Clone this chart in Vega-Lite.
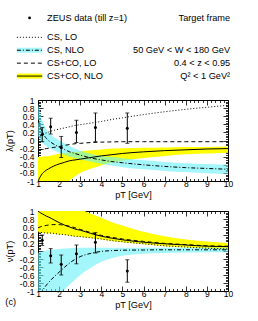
{
  "$schema": "https://vega.github.io/schema/vega-lite/v6.json",
  "padding": {"left": 5, "top": 5, "right": 5, "bottom": 2},
  "config": {
    "view": {"stroke": null},
    "concat": {"spacing": 7},
    "font": "Liberation Sans",
    "text": {"font": "Liberation Sans", "fontSize": 9.2, "color": "black"},
    "title": {"font": "Liberation Sans", "fontSize": 9.2, "fontWeight": "normal", "color": "black"},
    "axis": {"grid": false, "domainColor": "black", "tickColor": "black", "labelColor": "black", "titleColor": "black", "labelFont": "Liberation Sans", "titleFont": "Liberation Sans", "labelFontSize": 8.5, "titleFontSize": 9.2, "titleFontWeight": "normal", "labelFlush": false, "labelOverlap": false, "domainWidth": 1, "tickWidth": 0.8}
  },
  "datasets": {
    "legend": [
      {"line": 0, "label": "ZEUS data (till z=1)", "note": "Target frame"},
      {"line": 1.5, "label": "CS, LO", "note": ""},
      {"line": 2.5, "label": "CS, NLO", "note": "50 GeV < W < 180 GeV"},
      {"line": 3.5, "label": "CS+CO, LO", "note": "0.4 < z < 0.95"},
      {"line": 4.5, "label": "CS+CO, NLO", "note": "Q² < 1 GeV²"}
    ],
    "lam": [
      {"pT": 1.0, "cs_lo": null, "cs_nlo": 0.52, "cs_nlo_lo": 0.12, "cs_nlo_hi": 0.92, "co_lo": -0.24, "co_nlo": -1.05, "co_nlo_lo": -1.2, "co_nlo_hi": -0.41},
      {"pT": 1.05, "cs_lo": null, "cs_nlo": 0.43, "cs_nlo_lo": 0.06, "cs_nlo_hi": 0.8, "co_lo": -0.235, "co_nlo": -0.95, "co_nlo_lo": -1.2, "co_nlo_hi": -0.41},
      {"pT": 1.1, "cs_lo": 0.12, "cs_nlo": 0.35, "cs_nlo_lo": 0.0, "cs_nlo_hi": 0.7, "co_lo": -0.23, "co_nlo": -0.9, "co_nlo_lo": -1.2, "co_nlo_hi": -0.4},
      {"pT": 1.2, "cs_lo": 0.15, "cs_nlo": 0.22, "cs_nlo_lo": -0.06, "cs_nlo_hi": 0.5, "co_lo": -0.22, "co_nlo": -0.82, "co_nlo_lo": -1.2, "co_nlo_hi": -0.4},
      {"pT": 1.3, "cs_lo": 0.17, "cs_nlo": 0.12, "cs_nlo_lo": -0.1, "cs_nlo_hi": 0.37, "co_lo": -0.21, "co_nlo": -0.77, "co_nlo_lo": -1.2, "co_nlo_hi": -0.39},
      {"pT": 1.4, "cs_lo": 0.19, "cs_nlo": 0.05, "cs_nlo_lo": -0.14, "cs_nlo_hi": 0.28, "co_lo": -0.2, "co_nlo": -0.73, "co_nlo_lo": -1.2, "co_nlo_hi": -0.39},
      {"pT": 1.5, "cs_lo": 0.21, "cs_nlo": 0.0, "cs_nlo_lo": -0.17, "cs_nlo_hi": 0.2, "co_lo": -0.19, "co_nlo": -0.7, "co_nlo_lo": -1.2, "co_nlo_hi": -0.38},
      {"pT": 1.75, "cs_lo": 0.25, "cs_nlo": -0.09, "cs_nlo_lo": -0.24, "cs_nlo_hi": 0.08, "co_lo": -0.17, "co_nlo": -0.63, "co_nlo_lo": -1.15, "co_nlo_hi": -0.36},
      {"pT": 2.0, "cs_lo": 0.28, "cs_nlo": -0.16, "cs_nlo_lo": -0.3, "cs_nlo_hi": 0.0, "co_lo": -0.15, "co_nlo": -0.58, "co_nlo_lo": -1.1, "co_nlo_hi": -0.33},
      {"pT": 2.25, "cs_lo": 0.31, "cs_nlo": -0.22, "cs_nlo_lo": -0.35, "cs_nlo_hi": -0.07, "co_lo": -0.12, "co_nlo": -0.54, "co_nlo_lo": -1.05, "co_nlo_hi": -0.31},
      {"pT": 2.5, "cs_lo": 0.34, "cs_nlo": -0.28, "cs_nlo_lo": -0.4, "cs_nlo_hi": -0.14, "co_lo": -0.1, "co_nlo": -0.5, "co_nlo_lo": -0.98, "co_nlo_hi": -0.29},
      {"pT": 2.75, "cs_lo": 0.37, "cs_nlo": -0.32, "cs_nlo_lo": -0.43, "cs_nlo_hi": -0.2, "co_lo": -0.08, "co_nlo": -0.48, "co_nlo_lo": -0.88, "co_nlo_hi": -0.28},
      {"pT": 3.0, "cs_lo": 0.39, "cs_nlo": -0.36, "cs_nlo_lo": -0.46, "cs_nlo_hi": -0.25, "co_lo": -0.07, "co_nlo": -0.46, "co_nlo_lo": -0.8, "co_nlo_hi": -0.27},
      {"pT": 3.5, "cs_lo": 0.43, "cs_nlo": -0.43, "cs_nlo_lo": -0.52, "cs_nlo_hi": -0.33, "co_lo": -0.05, "co_nlo": -0.42, "co_nlo_lo": -0.7, "co_nlo_hi": -0.24},
      {"pT": 4.0, "cs_lo": 0.47, "cs_nlo": -0.48, "cs_nlo_lo": -0.58, "cs_nlo_hi": -0.38, "co_lo": -0.04, "co_nlo": -0.38, "co_nlo_lo": -0.61, "co_nlo_hi": -0.22},
      {"pT": 4.5, "cs_lo": 0.52, "cs_nlo": -0.52, "cs_nlo_lo": -0.62, "cs_nlo_hi": -0.41, "co_lo": -0.035, "co_nlo": -0.35, "co_nlo_lo": -0.55, "co_nlo_hi": -0.2},
      {"pT": 5.0, "cs_lo": 0.56, "cs_nlo": -0.55, "cs_nlo_lo": -0.66, "cs_nlo_hi": -0.44, "co_lo": -0.03, "co_nlo": -0.32, "co_nlo_lo": -0.5, "co_nlo_hi": -0.19},
      {"pT": 6.0, "cs_lo": 0.64, "cs_nlo": -0.6, "cs_nlo_lo": -0.71, "cs_nlo_hi": -0.49, "co_lo": -0.03, "co_nlo": -0.28, "co_nlo_lo": -0.43, "co_nlo_hi": -0.18},
      {"pT": 7.0, "cs_lo": 0.71, "cs_nlo": -0.64, "cs_nlo_lo": -0.75, "cs_nlo_hi": -0.53, "co_lo": -0.03, "co_nlo": -0.25, "co_nlo_lo": -0.38, "co_nlo_hi": -0.17},
      {"pT": 8.0, "cs_lo": 0.77, "cs_nlo": -0.67, "cs_nlo_lo": -0.78, "cs_nlo_hi": -0.56, "co_lo": -0.03, "co_nlo": -0.23, "co_nlo_lo": -0.34, "co_nlo_hi": -0.16},
      {"pT": 9.0, "cs_lo": 0.82, "cs_nlo": -0.69, "cs_nlo_lo": -0.81, "cs_nlo_hi": -0.58, "co_lo": -0.03, "co_nlo": -0.21, "co_nlo_lo": -0.32, "co_nlo_hi": -0.16},
      {"pT": 10.0, "cs_lo": 0.87, "cs_nlo": -0.71, "cs_nlo_lo": -0.83, "cs_nlo_hi": -0.6, "co_lo": -0.03, "co_nlo": -0.2, "co_nlo_lo": -0.3, "co_nlo_hi": -0.15}
    ],
    "nu": [
      {"pT": 1.0, "cs_lo": 0.47, "cs_nlo": -1.3, "cs_nlo_lo": -1.3, "cs_nlo_hi": -0.05, "co_lo": 0.58, "co_nlo": 1.0, "co_nlo_lo": 0.46, "co_nlo_hi": 1.3},
      {"pT": 1.05, "cs_lo": 0.47, "cs_nlo": -1.2, "cs_nlo_lo": -1.3, "cs_nlo_hi": -0.04, "co_lo": 0.59, "co_nlo": 0.98, "co_nlo_lo": 0.46, "co_nlo_hi": 1.3},
      {"pT": 1.1, "cs_lo": 0.465, "cs_nlo": -1.12, "cs_nlo_lo": -1.3, "cs_nlo_hi": -0.03, "co_lo": 0.6, "co_nlo": 0.96, "co_nlo_lo": 0.455, "co_nlo_hi": 1.3},
      {"pT": 1.2, "cs_lo": 0.46, "cs_nlo": -1.0, "cs_nlo_lo": -1.3, "cs_nlo_hi": -0.01, "co_lo": 0.62, "co_nlo": 0.93, "co_nlo_lo": 0.45, "co_nlo_hi": 1.3},
      {"pT": 1.3, "cs_lo": 0.455, "cs_nlo": -0.92, "cs_nlo_lo": -1.3, "cs_nlo_hi": 0.0, "co_lo": 0.63, "co_nlo": 0.9, "co_nlo_lo": 0.445, "co_nlo_hi": 1.3},
      {"pT": 1.4, "cs_lo": 0.45, "cs_nlo": -0.85, "cs_nlo_lo": -1.3, "cs_nlo_hi": 0.01, "co_lo": 0.64, "co_nlo": 0.87, "co_nlo_lo": 0.44, "co_nlo_hi": 1.3},
      {"pT": 1.5, "cs_lo": 0.45, "cs_nlo": -0.79, "cs_nlo_lo": -1.3, "cs_nlo_hi": 0.02, "co_lo": 0.65, "co_nlo": 0.85, "co_nlo_lo": 0.44, "co_nlo_hi": 1.3},
      {"pT": 1.75, "cs_lo": 0.44, "cs_nlo": -0.65, "cs_nlo_lo": -1.3, "cs_nlo_hi": 0.04, "co_lo": 0.66, "co_nlo": 0.78, "co_nlo_lo": 0.43, "co_nlo_hi": 1.3},
      {"pT": 2.0, "cs_lo": 0.42, "cs_nlo": -0.53, "cs_nlo_lo": -1.1, "cs_nlo_hi": 0.05, "co_lo": 0.66, "co_nlo": 0.71, "co_nlo_lo": 0.41, "co_nlo_hi": 1.3},
      {"pT": 2.25, "cs_lo": 0.41, "cs_nlo": -0.41, "cs_nlo_lo": -0.97, "cs_nlo_hi": 0.06, "co_lo": 0.64, "co_nlo": 0.65, "co_nlo_lo": 0.4, "co_nlo_hi": 1.25},
      {"pT": 2.5, "cs_lo": 0.39, "cs_nlo": -0.3, "cs_nlo_lo": -0.84, "cs_nlo_hi": 0.07, "co_lo": 0.62, "co_nlo": 0.6, "co_nlo_lo": 0.38, "co_nlo_hi": 1.2},
      {"pT": 2.75, "cs_lo": 0.37, "cs_nlo": -0.21, "cs_nlo_lo": -0.72, "cs_nlo_hi": 0.08, "co_lo": 0.58, "co_nlo": 0.55, "co_nlo_lo": 0.36, "co_nlo_hi": 1.14},
      {"pT": 3.0, "cs_lo": 0.36, "cs_nlo": -0.14, "cs_nlo_lo": -0.6, "cs_nlo_hi": 0.08, "co_lo": 0.54, "co_nlo": 0.52, "co_nlo_lo": 0.35, "co_nlo_hi": 1.06},
      {"pT": 3.5, "cs_lo": 0.33, "cs_nlo": -0.06, "cs_nlo_lo": -0.42, "cs_nlo_hi": 0.08, "co_lo": 0.46, "co_nlo": 0.44, "co_nlo_lo": 0.32, "co_nlo_hi": 0.93},
      {"pT": 4.0, "cs_lo": 0.3, "cs_nlo": -0.01, "cs_nlo_lo": -0.27, "cs_nlo_hi": 0.08, "co_lo": 0.39, "co_nlo": 0.37, "co_nlo_lo": 0.29, "co_nlo_hi": 0.83},
      {"pT": 4.5, "cs_lo": 0.26, "cs_nlo": 0.01, "cs_nlo_lo": -0.18, "cs_nlo_hi": 0.08, "co_lo": 0.34, "co_nlo": 0.32, "co_nlo_lo": 0.25, "co_nlo_hi": 0.72},
      {"pT": 5.0, "cs_lo": 0.23, "cs_nlo": 0.02, "cs_nlo_lo": -0.12, "cs_nlo_hi": 0.08, "co_lo": 0.3, "co_nlo": 0.28, "co_nlo_lo": 0.22, "co_nlo_hi": 0.64},
      {"pT": 6.0, "cs_lo": 0.18, "cs_nlo": 0.025, "cs_nlo_lo": -0.07, "cs_nlo_hi": 0.08, "co_lo": 0.24, "co_nlo": 0.22, "co_nlo_lo": 0.17, "co_nlo_hi": 0.48},
      {"pT": 7.0, "cs_lo": 0.13, "cs_nlo": 0.03, "cs_nlo_lo": -0.05, "cs_nlo_hi": 0.08, "co_lo": 0.19, "co_nlo": 0.18, "co_nlo_lo": 0.12, "co_nlo_hi": 0.37},
      {"pT": 8.0, "cs_lo": 0.1, "cs_nlo": 0.03, "cs_nlo_lo": -0.04, "cs_nlo_hi": 0.08, "co_lo": 0.16, "co_nlo": 0.15, "co_nlo_lo": 0.09, "co_nlo_hi": 0.29},
      {"pT": 9.0, "cs_lo": 0.07, "cs_nlo": 0.03, "cs_nlo_lo": -0.03, "cs_nlo_hi": 0.08, "co_lo": 0.13, "co_nlo": 0.12, "co_nlo_lo": 0.06, "co_nlo_hi": 0.24},
      {"pT": 10.0, "cs_lo": 0.05, "cs_nlo": 0.03, "cs_nlo_lo": -0.03, "cs_nlo_hi": 0.08, "co_lo": 0.12, "co_nlo": 0.11, "co_nlo_lo": 0.04, "co_nlo_hi": 0.2}
    ],
    "lam_pts": [
      {"pT": 1.2, "v": 0.15, "lo": -0.03, "hi": 0.32},
      {"pT": 1.6, "v": 0.34, "lo": 0.16, "hi": 0.55},
      {"pT": 2.1, "v": -0.17, "lo": -0.42, "hi": 0.1},
      {"pT": 2.82, "v": 0.2, "lo": -0.05, "hi": 0.5},
      {"pT": 3.72, "v": 0.32, "lo": -0.03, "hi": 0.68},
      {"pT": 5.23, "v": 0.3, "lo": -0.07, "hi": 0.68}
    ],
    "nu_pts": [
      {"pT": 1.2, "v": 0.27, "lo": 0.14, "hi": 0.4},
      {"pT": 1.6, "v": -0.12, "lo": -0.3, "hi": 0.06},
      {"pT": 2.1, "v": -0.33, "lo": -0.6, "hi": -0.1},
      {"pT": 2.82, "v": -0.07, "lo": -0.32, "hi": 0.15},
      {"pT": 3.72, "v": 0.22, "lo": -0.05, "hi": 0.46},
      {"pT": 5.23, "v": -0.5, "lo": -0.78, "hi": -0.22}
    ]
  },
  "vconcat": [
    {
      "width": 190, "height": 84,
      "data": {"name": "legend"},
      "encoding": {
        "y": {"field": "line", "type": "quantitative", "scale": {"domain": [-1, 5.5], "reverse": true, "nice": false, "zero": false}, "axis": null}
      },
      "layer": [
        {
          "transform": [{"filter": "datum.label == 'CS, NLO'"}],
          "mark": {"type": "rule", "strokeWidth": 5, "color": "#66f0f5", "opacity": 0.6},
          "encoding": {"x": {"datum": 0, "type": "quantitative", "scale": {"domain": [1, 10], "nice": false, "zero": false}, "axis": null}, "x2": {"datum": 1.2}}
        },
        {
          "transform": [{"filter": "datum.label == 'CS+CO, NLO'"}],
          "mark": {"type": "rule", "strokeWidth": 5, "color": "#ffff00"},
          "encoding": {"x": {"datum": 0, "type": "quantitative"}, "x2": {"datum": 1.2}}
        },
        {
          "transform": [{"filter": "datum.line > 0"}],
          "mark": {"type": "rule", "strokeWidth": 1, "color": "black"},
          "encoding": {
            "x": {"datum": 0, "type": "quantitative"}, "x2": {"datum": 1.2},
            "strokeDash": {"field": "label", "type": "nominal", "scale": {"domain": ["CS, LO", "CS, NLO", "CS+CO, LO", "CS+CO, NLO"], "range": [[1, 2], [4, 2, 1, 2], [4, 3], [1, 0]]}, "legend": null}
          }
        },
        {
          "transform": [{"filter": "datum.line == 0"}],
          "mark": {"type": "point", "filled": true, "shape": "circle", "size": 8, "color": "black", "opacity": 1},
          "encoding": {"x": {"datum": 0.6, "type": "quantitative"}}
        },
        {
          "mark": {"type": "text", "align": "left", "baseline": "middle"},
          "encoding": {"x": {"datum": 1.43, "type": "quantitative"}, "text": {"field": "label"}}
        },
        {
          "mark": {"type": "text", "align": "right", "baseline": "middle"},
          "encoding": {"x": {"datum": 10.1, "type": "quantitative"}, "text": {"field": "note"}}
        }
      ]
    },
    {
      "width": 190, "height": 81,
      "resolve": {"axis": {"x": "independent", "y": "independent"}},
      "layer": [
        {
          "data": {"name": "lam"},
          "mark": {"type": "area", "color": "#ffff00", "interpolate": "monotone", "clip": true, "opacity": 1},
          "encoding": {
            "x": {"field": "pT", "type": "quantitative", "scale": {"domain": [1, 10], "nice": false, "zero": false},
                  "axis": {"orient": "bottom", "values": [1, 2, 3, 4, 5, 6, 7, 8, 9, 10], "tickSize": -5, "labelPadding": 3, "title": "pT [GeV]", "titlePadding": 3}},
            "y": {"field": "co_nlo_lo", "type": "quantitative", "scale": {"domain": [-1, 1], "nice": false, "zero": false},
                  "axis": {"orient": "left", "values": [-1, -0.8, -0.6, -0.4, -0.2, 0, 0.2, 0.4, 0.6, 0.8, 1], "tickSize": -5, "labelPadding": 9, "format": ".1~f", "labelExpr": "replace(datum.label, '−', '-')", "title": "λ(pT)", "titlePadding": 5}},
            "y2": {"field": "co_nlo_hi"}
          }
        },
        {
          "data": {"name": "lam"},
          "mark": {"type": "area", "color": "#66f0f5", "interpolate": "monotone", "clip": true, "opacity": 0.6},
          "encoding": {
            "x": {"field": "pT", "type": "quantitative", "axis": {"orient": "top", "values": [1, 2, 3, 4, 5, 6, 7, 8, 9, 10], "tickSize": -5, "labels": false, "title": null}},
            "y": {"field": "cs_nlo_lo", "type": "quantitative", "axis": {"orient": "right", "values": [-1, -0.8, -0.6, -0.4, -0.2, 0, 0.2, 0.4, 0.6, 0.8, 1], "tickSize": -5, "labels": false, "title": null}},
            "y2": {"field": "cs_nlo_hi"}
          }
        },
        {
          "data": {"name": "lam"},
          "mark": {"type": "line", "color": "black", "strokeWidth": 1, "strokeDash": [1, 2], "interpolate": "monotone", "clip": true},
          "encoding": {
            "x": {"field": "pT", "type": "quantitative", "axis": {"orient": "bottom", "values": [1.2, 1.4, 1.6, 1.8, 2.2, 2.4, 2.6, 2.8, 3.2, 3.4, 3.6, 3.8, 4.2, 4.4, 4.6, 4.8, 5.2, 5.4, 5.6, 5.8, 6.2, 6.4, 6.6, 6.8, 7.2, 7.4, 7.6, 7.8, 8.2, 8.4, 8.6, 8.8, 9.2, 9.4, 9.6, 9.8], "tickSize": -2.5, "labels": false, "domain": false, "title": null}},
            "y": {"field": "cs_lo", "type": "quantitative", "axis": {"orient": "left", "values": [-0.96, -0.92, -0.88, -0.84, -0.76, -0.72, -0.68, -0.64, -0.56, -0.52, -0.48, -0.44, -0.36, -0.32, -0.28, -0.24, -0.16, -0.12, -0.08, -0.04, 0.04, 0.08, 0.12, 0.16, 0.24, 0.28, 0.32, 0.36, 0.44, 0.48, 0.52, 0.56, 0.64, 0.68, 0.72, 0.76, 0.84, 0.88, 0.92, 0.96], "tickSize": -2.5, "labels": false, "domain": false, "title": null}}
          }
        },
        {
          "data": {"name": "lam"},
          "mark": {"type": "line", "color": "black", "strokeWidth": 1, "strokeDash": [4, 2, 1, 2], "interpolate": "monotone", "clip": true},
          "encoding": {
            "x": {"field": "pT", "type": "quantitative", "axis": {"orient": "top", "values": [1.2, 1.4, 1.6, 1.8, 2.2, 2.4, 2.6, 2.8, 3.2, 3.4, 3.6, 3.8, 4.2, 4.4, 4.6, 4.8, 5.2, 5.4, 5.6, 5.8, 6.2, 6.4, 6.6, 6.8, 7.2, 7.4, 7.6, 7.8, 8.2, 8.4, 8.6, 8.8, 9.2, 9.4, 9.6, 9.8], "tickSize": -2.5, "labels": false, "domain": false, "title": null}},
            "y": {"field": "cs_nlo", "type": "quantitative", "axis": {"orient": "right", "values": [-0.96, -0.92, -0.88, -0.84, -0.76, -0.72, -0.68, -0.64, -0.56, -0.52, -0.48, -0.44, -0.36, -0.32, -0.28, -0.24, -0.16, -0.12, -0.08, -0.04, 0.04, 0.08, 0.12, 0.16, 0.24, 0.28, 0.32, 0.36, 0.44, 0.48, 0.52, 0.56, 0.64, 0.68, 0.72, 0.76, 0.84, 0.88, 0.92, 0.96], "tickSize": -2.5, "labels": false, "domain": false, "title": null}}
          }
        },
        {
          "data": {"name": "lam"},
          "mark": {"type": "line", "color": "black", "strokeWidth": 1, "strokeDash": [4, 3], "interpolate": "monotone", "clip": true},
          "encoding": {
            "x": {"field": "pT", "type": "quantitative", "axis": null},
            "y": {"field": "co_lo", "type": "quantitative", "axis": null}
          }
        },
        {
          "data": {"name": "lam"},
          "mark": {"type": "line", "color": "black", "strokeWidth": 1, "interpolate": "monotone", "clip": true},
          "encoding": {
            "x": {"field": "pT", "type": "quantitative", "axis": null},
            "y": {"field": "co_nlo", "type": "quantitative", "axis": null}
          }
        },
        {
          "data": {"name": "lam_pts"},
          "mark": {"type": "errorbar", "color": "black", "thickness": 1, "ticks": {"size": 4, "thickness": 1}},
          "encoding": {
            "x": {"field": "pT", "type": "quantitative", "axis": null},
            "y": {"field": "lo", "type": "quantitative", "axis": null},
            "y2": {"field": "hi"}
          }
        },
        {
          "data": {"name": "lam_pts"},
          "mark": {"type": "point", "filled": true, "shape": "circle", "size": 9, "color": "black", "opacity": 1},
          "encoding": {
            "x": {"field": "pT", "type": "quantitative", "axis": null},
            "y": {"field": "v", "type": "quantitative", "axis": null}
          }
        }
      ]
    },
    {
      "width": 190, "height": 80,
      "title": {"text": "(c)", "orient": "bottom", "anchor": "start", "frame": "bounds", "offset": -12},
      "resolve": {"axis": {"x": "independent", "y": "independent"}},
      "layer": [
        {
          "data": {"name": "nu"},
          "mark": {"type": "area", "color": "#ffff00", "interpolate": "monotone", "clip": true, "opacity": 1},
          "encoding": {
            "x": {"field": "pT", "type": "quantitative", "scale": {"domain": [1, 10], "nice": false, "zero": false},
                  "axis": {"orient": "bottom", "values": [1, 2, 3, 4, 5, 6, 7, 8, 9, 10], "tickSize": -5, "labelPadding": 3, "title": "pT [GeV]", "titlePadding": 3}},
            "y": {"field": "co_nlo_lo", "type": "quantitative", "scale": {"domain": [-1, 1], "nice": false, "zero": false},
                  "axis": {"orient": "left", "values": [-1, -0.8, -0.6, -0.4, -0.2, 0, 0.2, 0.4, 0.6, 0.8, 1], "tickSize": -5, "labelPadding": 9, "format": ".1~f", "labelExpr": "replace(datum.label, '−', '-')", "title": "ν(pT)", "titlePadding": 5}},
            "y2": {"field": "co_nlo_hi"}
          }
        },
        {
          "data": {"name": "nu"},
          "mark": {"type": "area", "color": "#66f0f5", "interpolate": "monotone", "clip": true, "opacity": 0.6},
          "encoding": {
            "x": {"field": "pT", "type": "quantitative", "axis": {"orient": "top", "values": [1, 2, 3, 4, 5, 6, 7, 8, 9, 10], "tickSize": -5, "labels": false, "title": null}},
            "y": {"field": "cs_nlo_lo", "type": "quantitative", "axis": {"orient": "right", "values": [-1, -0.8, -0.6, -0.4, -0.2, 0, 0.2, 0.4, 0.6, 0.8, 1], "tickSize": -5, "labels": false, "title": null}},
            "y2": {"field": "cs_nlo_hi"}
          }
        },
        {
          "data": {"name": "nu"},
          "mark": {"type": "line", "color": "black", "strokeWidth": 1, "strokeDash": [1, 2], "interpolate": "monotone", "clip": true},
          "encoding": {
            "x": {"field": "pT", "type": "quantitative", "axis": {"orient": "bottom", "values": [1.2, 1.4, 1.6, 1.8, 2.2, 2.4, 2.6, 2.8, 3.2, 3.4, 3.6, 3.8, 4.2, 4.4, 4.6, 4.8, 5.2, 5.4, 5.6, 5.8, 6.2, 6.4, 6.6, 6.8, 7.2, 7.4, 7.6, 7.8, 8.2, 8.4, 8.6, 8.8, 9.2, 9.4, 9.6, 9.8], "tickSize": -2.5, "labels": false, "domain": false, "title": null}},
            "y": {"field": "cs_lo", "type": "quantitative", "axis": {"orient": "left", "values": [-0.96, -0.92, -0.88, -0.84, -0.76, -0.72, -0.68, -0.64, -0.56, -0.52, -0.48, -0.44, -0.36, -0.32, -0.28, -0.24, -0.16, -0.12, -0.08, -0.04, 0.04, 0.08, 0.12, 0.16, 0.24, 0.28, 0.32, 0.36, 0.44, 0.48, 0.52, 0.56, 0.64, 0.68, 0.72, 0.76, 0.84, 0.88, 0.92, 0.96], "tickSize": -2.5, "labels": false, "domain": false, "title": null}}
          }
        },
        {
          "data": {"name": "nu"},
          "mark": {"type": "line", "color": "black", "strokeWidth": 1, "strokeDash": [4, 2, 1, 2], "interpolate": "monotone", "clip": true},
          "encoding": {
            "x": {"field": "pT", "type": "quantitative", "axis": {"orient": "top", "values": [1.2, 1.4, 1.6, 1.8, 2.2, 2.4, 2.6, 2.8, 3.2, 3.4, 3.6, 3.8, 4.2, 4.4, 4.6, 4.8, 5.2, 5.4, 5.6, 5.8, 6.2, 6.4, 6.6, 6.8, 7.2, 7.4, 7.6, 7.8, 8.2, 8.4, 8.6, 8.8, 9.2, 9.4, 9.6, 9.8], "tickSize": -2.5, "labels": false, "domain": false, "title": null}},
            "y": {"field": "cs_nlo", "type": "quantitative", "axis": {"orient": "right", "values": [-0.96, -0.92, -0.88, -0.84, -0.76, -0.72, -0.68, -0.64, -0.56, -0.52, -0.48, -0.44, -0.36, -0.32, -0.28, -0.24, -0.16, -0.12, -0.08, -0.04, 0.04, 0.08, 0.12, 0.16, 0.24, 0.28, 0.32, 0.36, 0.44, 0.48, 0.52, 0.56, 0.64, 0.68, 0.72, 0.76, 0.84, 0.88, 0.92, 0.96], "tickSize": -2.5, "labels": false, "domain": false, "title": null}}
          }
        },
        {
          "data": {"name": "nu"},
          "mark": {"type": "line", "color": "black", "strokeWidth": 1, "strokeDash": [4, 3], "interpolate": "monotone", "clip": true},
          "encoding": {
            "x": {"field": "pT", "type": "quantitative", "axis": null},
            "y": {"field": "co_lo", "type": "quantitative", "axis": null}
          }
        },
        {
          "data": {"name": "nu"},
          "mark": {"type": "line", "color": "black", "strokeWidth": 1, "interpolate": "monotone", "clip": true},
          "encoding": {
            "x": {"field": "pT", "type": "quantitative", "axis": null},
            "y": {"field": "co_nlo", "type": "quantitative", "axis": null}
          }
        },
        {
          "data": {"name": "nu_pts"},
          "mark": {"type": "errorbar", "color": "black", "thickness": 1, "ticks": {"size": 4, "thickness": 1}},
          "encoding": {
            "x": {"field": "pT", "type": "quantitative", "axis": null},
            "y": {"field": "lo", "type": "quantitative", "axis": null},
            "y2": {"field": "hi"}
          }
        },
        {
          "data": {"name": "nu_pts"},
          "mark": {"type": "point", "filled": true, "shape": "circle", "size": 9, "color": "black", "opacity": 1},
          "encoding": {
            "x": {"field": "pT", "type": "quantitative", "axis": null},
            "y": {"field": "v", "type": "quantitative", "axis": null}
          }
        }
      ]
    }
  ]
}
